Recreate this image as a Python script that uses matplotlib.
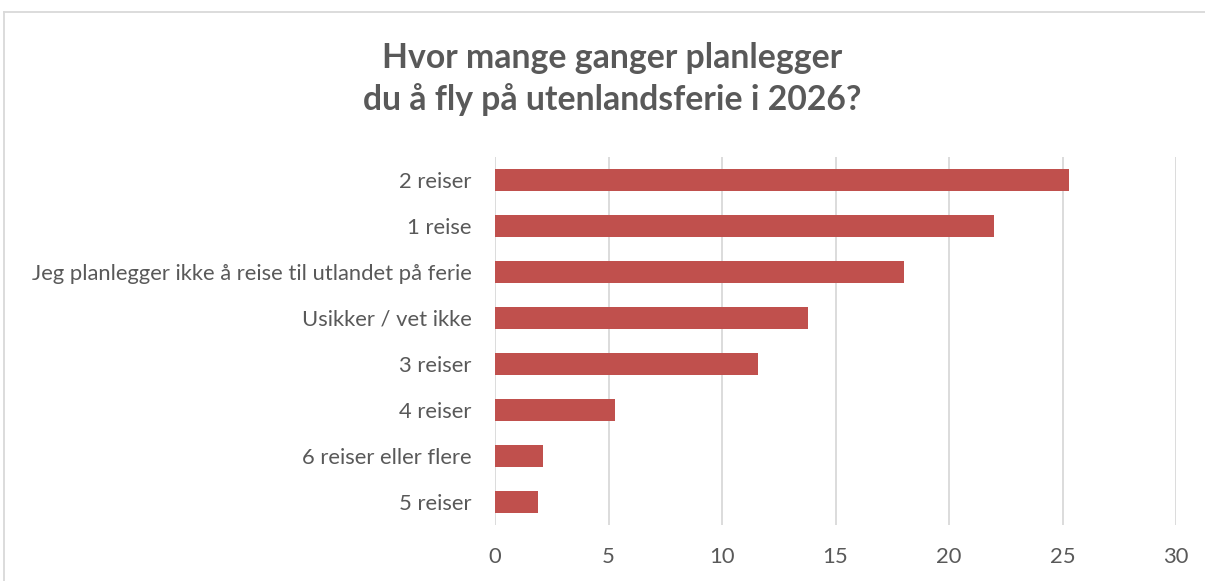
import matplotlib
matplotlib.use("Agg")
import matplotlib.pyplot as plt
from matplotlib.lines import Line2D

categories = ["2 reiser", "1 reise", "Jeg planlegger ikke å reise til utlandet på ferie",
              "Usikker / vet ikke", "3 reiser", "4 reiser", "6 reiser eller flere", "5 reiser"]
values = [25.3, 22.0, 18.0, 13.8, 11.6, 5.3, 2.1, 1.9]
xticks = [0, 5, 10, 15, 20, 25, 30]
title = "Hvor mange ganger planlegger\ndu å fly på utenlandsferie i 2026?"

plt.rcParams['font.family'] = ['Lato', 'DejaVu Sans']
W, H = 1205, 581
fig = plt.figure(figsize=(W/100, H/100), dpi=100)
ax = fig.add_axes([495/W, 1-525/H, (1176-495)/W, 368/H])

ypos = list(range(len(categories)))
ax.barh(ypos, values, height=0.48, color="#C0504D", zorder=3)
ax.set_ylim(len(categories)-0.5, -0.5)
ax.set_xlim(0, 30)
ax.set_xticks(xticks)
ax.set_xticklabels([str(t) for t in xticks])
ax.set_yticks(ypos)
ax.set_yticklabels(categories)
ax.grid(axis='x', color="#D9D9D9", linewidth=1.3, zorder=0)
for s in ax.spines.values():
    s.set_visible(False)
ax.tick_params(axis='both', length=0, labelsize=15.8, colors="#595959")
ax.tick_params(axis='x', pad=16)
ax.tick_params(axis='y', pad=17)

fig.text(612/W, 1-79/H, title, ha='center', va='center', fontsize=24.3,
         fontweight='bold', color="#595959", linespacing=1.3)

# chart border
fig.add_artist(Line2D([4/W, 4/W], [0, 1-12/H], transform=fig.transFigure, color="#D9D9D9", lw=1.3))
fig.add_artist(Line2D([4/W, 1], [1-12/H, 1-12/H], transform=fig.transFigure, color="#D9D9D9", lw=1.3))

fig.savefig("out.png", dpi=100, facecolor="white")
